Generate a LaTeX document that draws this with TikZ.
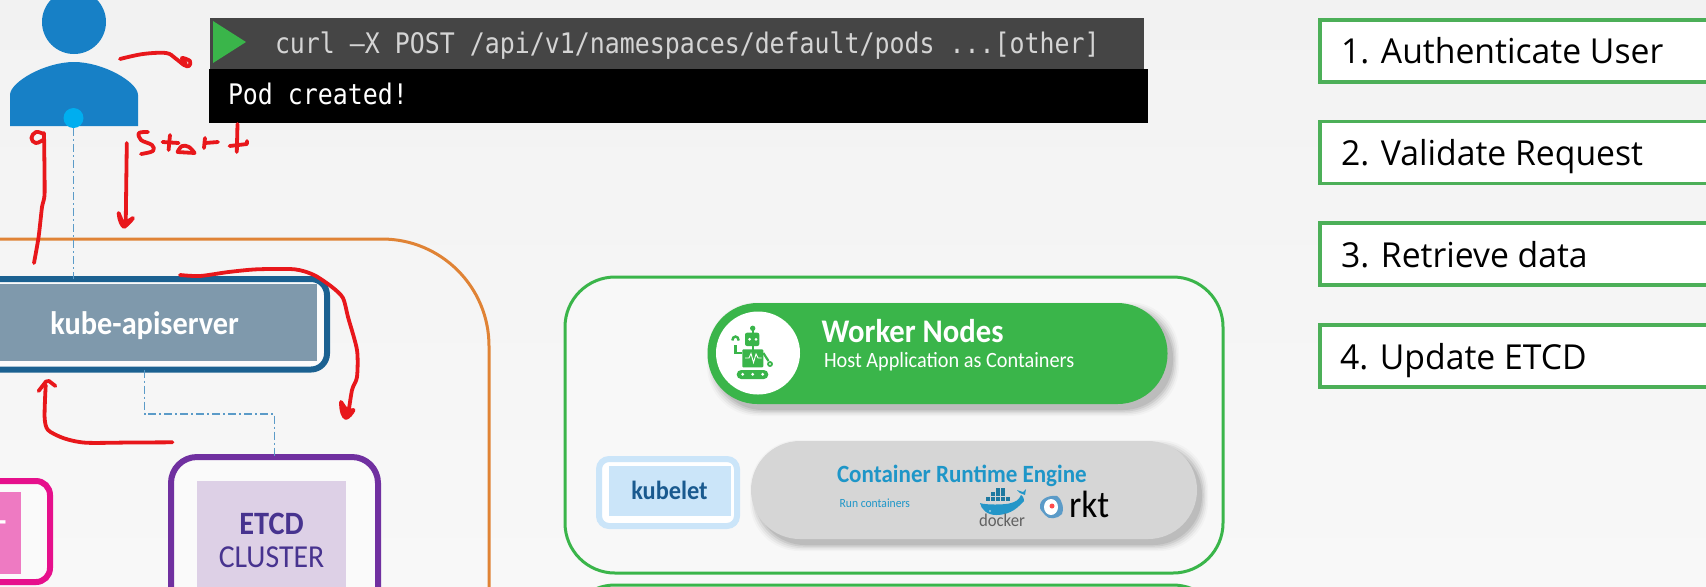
\documentclass[tikz,border=0pt]{standalone}
\usepackage{fontspec}
\setmainfont[FakeStretch=0.93]{Carlito}
\newfontfamily\stepfont[FakeStretch=0.98]{Open Sans}
\newfontfamily\termfont[FakeStretch=0.88]{DejaVu Sans Mono}
\usetikzlibrary{calc,shapes.geometric}
\definecolor{bgc}{HTML}{F5F5F5}
\definecolor{bgtop}{HTML}{F2F2F2}
\definecolor{bgbot}{HTML}{F8F8F8}
\definecolor{inkred}{HTML}{E8171B}
\definecolor{userblue}{HTML}{1780C6}
\definecolor{dotblue}{HTML}{00AEEF}
\definecolor{apiblue}{HTML}{1B6191}
\definecolor{apifill}{HTML}{7F99AC}
\definecolor{linkblue}{HTML}{5B9BC8}
\definecolor{orangeline}{HTML}{E08335}
\definecolor{etcdline}{HTML}{7030A0}
\definecolor{etcdfill}{HTML}{DDD0E6}
\definecolor{etcdtext}{HTML}{47338F}
\definecolor{pinkline}{HTML}{E6108C}
\definecolor{pinkfill}{HTML}{EE7AC2}
\definecolor{greenk}{HTML}{3AB54A}
\definecolor{stepgreen}{HTML}{4CAF58}
\definecolor{kubeletline}{HTML}{CBE5F9}
\definecolor{kubelettext}{HTML}{1A5A8F}
\definecolor{pillgrey}{HTML}{D6D6D6}
\definecolor{enginetext}{HTML}{1E96C8}
\definecolor{whale}{HTML}{2496C8}
\newcommand{\pxfont}[1]{\fontsize{#1}{#1}\selectfont}
\newcommand{\softshadow}[5]{%
  \foreach \g/\o in {7/.025,5.5/.04,4/.05,2.5/.07,1/.08}{%
    \fill[black,opacity=\o,rounded corners=#5pt]
      ({#1+6-\g},{#2+6-\g}) rectangle ({#3+5+\g},{#4+5+\g});}}
\tikzset{
  x=0.5pt,y=-0.5pt,
  every node/.style={outer sep=0pt,inner sep=0pt},
  label text/.style={anchor=base west},
  ink/.style={draw=inkred,line width=1.9pt,line cap=round,line join=round},
  link/.style={draw=linkblue,line width=0.55pt,dash pattern=on 4pt off 1.5pt on 1pt off 1.5pt},
  stepbox/.style={draw=stepgreen,line width=1.6pt,fill=white,minimum width=195pt,minimum height=31pt},
  steptext/.style={label text,font=\stepfont\pxfont{17.2},text=black},
  green panel/.style={draw=greenk,line width=1.5pt,fill=white!35!bgc,rounded corners=25pt,minimum width=329pt},
}
\begin{document}
\begin{tikzpicture}
\clip (0,0) rectangle (1706,586);
\shade[top color=bgtop,bottom color=bgbot] (0,0) rectangle (1706,586);

% control-plane frame
\draw[orangeline,line width=1.5pt] (-10,239) -- (382,239) arc[start angle=-90,end angle=0,radius=107] -- (489,600);

% user
\fill[userblue] (74,22) ellipse[x radius=32,y radius=32];
\fill[userblue] (10,126) -- (10,95) .. controls (10,82) and (45,62) .. (74,62) .. controls (103,62) and (138,82) .. (138,95) -- (138,126) -- cycle;
\node[circle,fill=dotblue,minimum size=10pt] (userdot) at (73.5,118) {};

% terminal
\node[fill=black!73,minimum width=467pt,minimum height=25.5pt] (termtop) at (677,43.5) {};
\node[fill=black,minimum width=469.5pt,minimum height=27pt] (termbot) at (678.5,96) {};
\fill[greenk] (213,21) -- (246,42) -- (213,63) -- cycle;
\node[label text,text=black!17,font=\termfont\pxfont{14.15}] (curl) at (275,53) {curl –X POST /api/v1/namespaces/default/pods ...[other]};
\node[label text,text=white,font=\termfont\pxfont{14.15}] (podmsg) at (228,104) {Pod created!};

% kube-apiserver
\node[draw=apiblue,line width=3pt,fill=white!60!bgc,rounded corners=8pt,minimum width=182.3pt,minimum height=45.25pt] (api) at (144.7,324.25) {};
\node[fill=apifill,minimum width=172.3pt,minimum height=38.5pt] (apiinner) at (144.7,322.5) {};
\node[anchor=base,text=white,font=\bfseries\pxfont{16.3}] (apilabel) at (144.7,334) {kube-apiserver};

% ETCD
\node[draw=etcdline,line width=3pt,fill=white!50!bgc,rounded corners=13pt,minimum width=103.5pt,minimum height=100pt] (etcd) at (274.5,557) {};
\node[fill=etcdfill,minimum width=74.5pt,minimum height=79pt] (etcdinner) at (271.5,560) {};
\node[anchor=base,text=etcdtext,font=\bfseries\pxfont{16.3}] (etcdt) at (271.5,534) {ETCD};
\node[anchor=base,text=etcdtext,font=\pxfont{16}] (etcdc) at (271.5,567) {CLUSTER};

% scheduler fragment
\node[draw=pinkline,line width=3pt,fill=white!50!bgc,rounded corners=7pt,minimum width=150pt,minimum height=50.5pt] (pink) at (-100,531.5) {};
\node[fill=pinkfill,minimum width=120.5pt,minimum height=41pt] (pinkinner) at (-100,533) {};
\node[anchor=base,text=white,font=\bfseries\pxfont{16}] (pinkdash) at (2,531) {-};

% connectors
\coordinate (bend) at (0,414);
\draw[link] (userdot.south) -- (userdot.south |- api.north);
\draw[link] (api.south) -- (api.south |- bend) -- (etcd.north |- bend) -- (etcd.north);

% worker panels
\node[green panel,minimum height=148pt] (worker) at (894,425) {};
\node[green panel,minimum height=145pt] (worker2) at (894,730) {};

\softshadow{708}{303}{1167}{404}{25}
\node[fill=greenk,rounded corners=25pt,minimum width=230pt,minimum height=50.5pt] (workerpill) at (937.5,353.5) {};
\node[ellipse,fill=white,minimum width=42pt,minimum height=41.5pt] (robotdisc) at (758,353) {};
\node[label text,text=white,font=\bfseries\pxfont{16.5}] (wtitle) at (821.5,342) {Worker Nodes};
\node[label text,text=white,font=\pxfont{10.9}] (wsub) at (824,367) {Host Application as Containers};

% robot
\fill[greenk] (752.7,328.3) circle[radius=2.7];
\draw[greenk,line width=1pt] (752.7,329) -- (752.7,334);
\fill[greenk,rounded corners=1pt] (745,332.7) rectangle (759.3,346);
\fill[white] (749.6,339.3) circle[radius=1.5] (756,339.3) circle[radius=1.5];
\draw[greenk,line width=1pt] (752.7,346) -- (752.7,350);
\fill[greenk,rounded corners=0.5pt] (742.3,349.3) rectangle (763.3,367.3);
\draw[white,line width=0.45pt] (745,358) -- (749,358) -- (751,353.5) -- (753.5,362.5) -- (756,354) -- (758,358) -- (761.5,358);
\draw[greenk,line width=1.1pt] (742.3,353) -- (735.5,353) -- (735.5,345);
\draw[greenk,line width=1.2pt] (732.3,340.5) arc[start angle=-180,end angle=0,x radius=3.2,y radius=4];
\draw[greenk,line width=1.1pt] (763.3,353) -- (768.5,361);
\draw[greenk,line width=0.9pt] (770,364) circle[radius=2];
\fill[greenk,rounded corners=2.2pt] (736.7,370) rectangle (768.3,379);
\fill[white] (742.7,374.3) circle[radius=1.6] (752.7,374.3) circle[radius=1.6] (762.7,374.3) circle[radius=1.6];

% kubelet
\node[draw=kubeletline,line width=3pt,fill=white,rounded corners=5pt,minimum width=69pt,minimum height=33.5pt] (kubelet) at (668,492.5) {};
\node[fill=kubeletline,minimum width=60.75pt,minimum height=25pt] (kubeletinner) at (669.75,491) {};
\node[anchor=base,text=kubelettext,font=\bfseries\pxfont{13.1}] (kubelett) at (669.5,499) {kubelet};

% container runtime
\softshadow{751}{441}{1196}{539}{24.5}
\node[fill=pillgrey,rounded corners=24.5pt,minimum width=223pt,minimum height=49pt] (runtime) at (974,490) {};
\node[label text,text=enginetext,font=\bfseries\pxfont{12.4}] (rtitle) at (837,482) {Container Runtime Engine};
\node[label text,text=enginetext,font=\pxfont{6.25}] (rsub) at (839.6,507) {Run containers};

% docker logo
\fill[whale] (980,503) .. controls (984,505) and (1006,505) .. (1011,503) .. controls (1015,502) and (1019,500) .. (1021,495) .. controls (1024,497) and (1024,500) .. (1024,501) .. controls (1019,506) and (1012,515) .. (996,515) .. controls (987,515) and (981,509) .. (980,503) -- cycle;
\fill[whale] (1020,493) -- (1017,490) -- (1023,492) -- (1026,489) -- (1025,495) -- cycle;
\foreach \bx/\by in {986/497,991/497,996/497,1001/497,1006/497,991/492,996/492,1001/492,996/488,1001/488}{
  \fill[whale!80!black] (\bx,\by) rectangle ++(4,4);}
\fill[white,opacity=.55] (990,511) circle[radius=1.2];
\node[label text,text=black!62,font=\pxfont{9}] (dockert) at (979,526) {docker};

% rkt logo
\fill[linkblue] (1040,505) .. controls (1041,498) and (1050,495) .. (1057,496) .. controls (1063,500) and (1064,510) .. (1062,514) .. controls (1058,519) and (1048,520) .. (1045,515) .. controls (1043,512) and (1039,510) .. (1040,505) -- cycle;
\fill[white] (1051,507) ellipse[x radius=7,y radius=8];
\fill[red!70!white] (1052,506) circle[radius=2.5];
\node[label text,text=black,font=\pxfont{19}] (rktt) at (1069,517) {rkt};

% step boxes
\node[stepbox] (s1) at (1515,51) {};
\node[stepbox] (s2) at (1515,152.5) {};
\node[stepbox] (s3) at (1515,254) {};
\node[stepbox] (s4) at (1515,356) {};
\node[steptext] (s1t) at (1341,63) {1. Authenticate User};
\node[steptext] (s2t) at (1341,165) {2. Validate Request};
\node[steptext] (s3t) at (1341,267) {3. Retrieve data};
\node[steptext] (s4t) at (1340,369) {4. Update ETCD};

% red handwriting
\draw[ink] plot[smooth,tension=.6] coordinates {(120,59) (143,54) (166,53) (175,58) (184,65) (189,66) (190,61) (182,58) (186,64)};
\draw[ink] plot[smooth,tension=.7] coordinates {(43.6,134) (36,132) (31.4,138) (35.7,143) (43,140)};
\draw[ink] plot[smooth,tension=.4] coordinates {(44,133) (44.6,193) (42,207) (38.6,237) (34,263)};
\draw[ink] (126.8,143) -- (125.7,226);
\draw[ink,fill=inkred] (118.6,213) .. controls (119,220) and (122,226) .. (124,227) .. controls (127,225) and (131,221) .. (133,218) .. controls (128,222) and (124,222) .. (122,221) -- cycle;
% Start
\draw[ink] plot[smooth,tension=.6] coordinates {(148,132) (139,133) (141,140) (152,145) (153,151) (141,154)};
\draw[ink] (170,135) -- (168.6,150);
\draw[ink] (162.5,142) -- (178.6,143);
\draw[ink] plot[smooth,tension=.6] coordinates {(177.5,152) (182,146) (189,147) (194.6,153)};
\draw[ink] (177.5,152) -- (194.6,153);
\draw[ink] (205,138) -- (204,148);
\draw[ink] (205,143) -- (218,142);
\draw[ink] (237.5,124) -- (236.8,152);
\draw[ink] (229.6,146) -- (247,144) -- (247,141);
% top-right sweep
\draw[ink] plot[smooth,tension=.45] coordinates {(180,275) (200,276) (228.6,272) (257,269.3) (294.6,269.3) (314,275) (332,287) (343,298) (348,317) (357,350) (357,377) (352,390) (348,416)};
\draw[ink,fill=inkred] (341,402) .. controls (341,411) and (343,417) .. (346,418) .. controls (349,417) and (352,413) .. (353.6,410) .. controls (350,411) and (347,410) .. (345,408) -- cycle;
% bottom-left sweep
\draw[ink] plot[smooth,tension=.45] coordinates {(172.5,442.3) (130,442.5) (85.7,442.7) (64,438.3) (48,430) (44.6,417) (45.7,385)};
\draw[ink] (38.6,391) -- (46,381.5) -- (49,381) -- (55.4,386);
\end{tikzpicture}
\end{document}
